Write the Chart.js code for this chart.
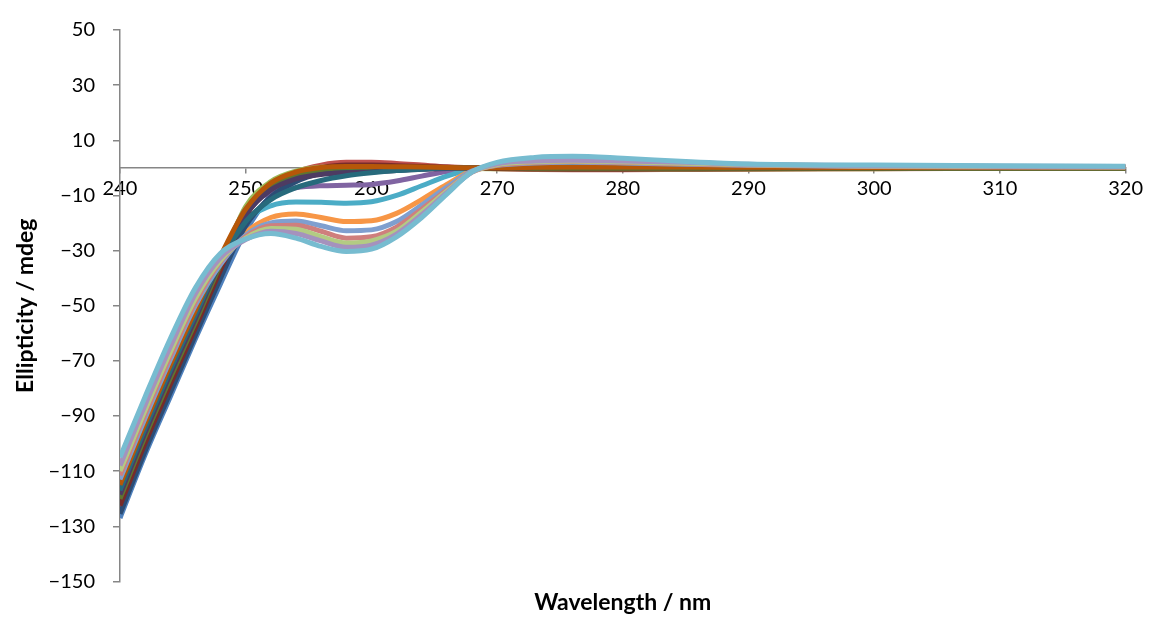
<!DOCTYPE html>
<html>
<head>
<meta charset="utf-8">
<script src="https://cdn.jsdelivr.net/npm/chart.js@4/dist/chart.umd.min.js"></script>
<style>
  html, body { margin: 0; padding: 0; background: #ffffff; }
  #wrap { width: 1152px; height: 619px; position: relative; }
</style>
</head>
<body>
<div id="wrap"><canvas id="c"></canvas></div>
<script>
// Wavelength (nm) sample points
const wavelengths = [240,242,244,246,248,250,252,254,256,258,260,262,264,266,268,270,273,276,280,285,290,300,310,320];

// Ellipticity (mdeg) per titration curve
const s1  = [-127,-104,-83,-62,-42,-23,-10,-3.5,-0.5,1,1.3,1,0.6,0.2,0,-0.1,-0.2,-0.2,-0.2,-0.2,-0.1,-0.1,0,0];
const s2  = [-124,-101,-80,-59,-38,-17,-6.5,-1.5,1,2,2,1.6,1,0.4,0,-0.3,-0.6,-0.7,-0.7,-0.6,-0.5,-0.3,-0.2,-0.1];
const s3  = [-121,-98.4,-77,-57,-35,-14,-5,-1.2,0.2,0.4,0.4,0.3,0.2,0,-0.2,-0.3,-0.4,-0.5,-0.5,-0.5,-0.4,-0.3,-0.2,-0.2];
const s4  = [-119.5,-97,-76,-55.5,-34,-15,-9,-7.2,-6.5,-6.3,-6,-4.8,-3,-1.3,-0.2,0.4,0.9,1,0.9,0.6,0.4,0.2,0.1,0.1];
const s5  = [-118,-95.5,-74.4,-54,-34,-19.5,-13.8,-12.4,-12.5,-12.8,-12.3,-10,-6.5,-3,-0.5,0.6,1.3,1.5,1.4,1,0.7,0.4,0.3,0.2];
const s6  = [-116.5,-94,-73,-53,-35,-23.5,-18,-16.7,-18,-19.5,-19.2,-16.5,-11.5,-6,-1,0.8,1.6,1.8,1.6,1.2,0.8,0.5,0.3,0.2];
const s7  = [-125.5,-102.7,-81.5,-60.6,-40,-21,-10.5,-5,-2,-0.6,0,0.1,0.1,0.1,0,0,0.1,0.1,0.1,0.1,0.1,0,0,0];
const s8  = [-122.5,-99.8,-78.6,-58,-37,-17.5,-7,-2.5,0,1,1,0.8,0.5,0.2,0,-0.2,-0.4,-0.5,-0.5,-0.4,-0.3,-0.2,-0.1,-0.1];
const s9  = [-120,-97.4,-76.3,-56,-35,-16,-6.5,-2.5,-0.7,0,0,0,0,0,0,0,-0.1,-0.1,-0.1,-0.1,-0.1,-0.1,-0.1,-0.1];
const s10 = [-118.5,-96,-74.8,-54.6,-34,-17,-8,-4,-2.4,-1.8,-1.5,-1,-0.5,-0.2,0,0.2,0.5,0.6,0.6,0.5,0.4,0.2,0.1,0.1];
const s11 = [-117,-94.5,-73.4,-53.3,-34,-19.5,-11.5,-7.2,-4.6,-2.9,-1.8,-1,-0.5,-0.1,0,0.3,0.8,1,0.9,0.7,0.5,0.3,0.2,0.1];
const s12 = [-115,-92.6,-71.5,-51.6,-32,-15,-5.5,-1.5,0.1,0.5,0.5,0.4,0.3,0.1,0,0,0.2,0.3,0.3,0.3,0.2,0.1,0.1,0.1];
const s13 = [-113,-90.7,-69.6,-49.9,-35,-24.5,-20,-19.3,-21,-22.8,-22.5,-19.5,-13.5,-7,-1.2,0.9,1.8,2,1.8,1.3,0.9,0.5,0.4,0.3];
const s14 = [-111.5,-89.2,-68.2,-48.6,-34,-25,-21,-20.8,-23,-25.5,-25,-21.5,-15,-8,-1.5,1,2,2.3,2,1.5,1,0.6,0.4,0.3];
const s15 = [-110,-87.8,-66.8,-47.3,-33.5,-25.5,-22,-22.3,-25,-27.3,-26.5,-23,-16,-8.5,-1.5,1.2,2.2,2.5,2.2,1.7,1.1,0.7,0.5,0.4];
const s16 = [-108,-85.9,-64.9,-45.6,-32.5,-26,-23,-23.8,-26.5,-28.8,-28,-24,-17,-9,-1.5,1.5,2.5,2.8,2.5,2,1.3,0.8,0.6,0.5];
const s17 = [-105,-83,-62,-43.5,-31,-25.8,-23.8,-25.5,-28.5,-30.3,-29.5,-25,-18,-9.5,-1.5,2,3.8,4.2,3.5,2.3,1.4,1,0.8,0.6];

const seriesValues = [s1,s2,s3,s4,s5,s6,s7,s8,s9,s10,s11,s12,s13,s14,s15,s16,s17];
const seriesColors = ['#4F81BD','#C0504D','#9BBB59','#8064A2','#4BACC6','#F79646',
                      '#2C4D75','#772C2A','#5F7530','#4D3B62','#276A7C','#B65708',
                      '#7F9FCF','#CF7F7D','#B3CB83','#A592BD','#77BCD0'];

const xTicks = [240,250,260,270,280,290,300,310,320];
const yTicks = [50,30,10,-10,-30,-50,-70,-90,-110,-130,-150];

const n = seriesValues.length;
const datasets = seriesValues.map((vals, i) => ({
  label: 'Series ' + (i + 1),
  data: wavelengths.map((w, k) => ({ x: w, y: vals[k] })),
  xAxisID: 'x',
  yAxisID: 'y',
  borderColor: seriesColors[i],
  backgroundColor: seriesColors[i],
  borderWidth: 5,
  pointRadius: 0,
  fill: false,
  cubicInterpolationMode: 'monotone',
  order: n - i
}));

const axisColor = '#868686';
const tickFont = { family: 'Lato', size: 20 };
const titleFont = { family: 'Lato', size: 23, weight: 'bold', lineHeight: 1.2 };
const fmt = (v) => (v < 0 ? '\u2212' + Math.abs(v) : String(v));

new Chart(document.getElementById('c'), {
  type: 'line',
  data: { datasets },
  options: {
    responsive: true,
    maintainAspectRatio: false,
    animation: false,
    layout: { padding: { top: 12, right: 25, left: 0, bottom: 0 } },
    plugins: {
      legend: { display: false },
      tooltip: { enabled: false }
    },
    scales: {
      x: {
        type: 'linear',
        position: { y: 0 },
        min: 240,
        max: 320,
        afterBuildTicks: (scale) => { scale.ticks = xTicks.map(v => ({ value: v })); },
        ticks: { display: false, autoSkip: false },
        grid: { display: true, drawOnChartArea: false, drawTicks: true, tickLength: 5, color: axisColor, lineWidth: 1.5 },
        border: { display: true, color: axisColor, width: 1.5 }
      },
      xLabels: {
        type: 'linear',
        axis: 'x',
        position: { y: 0 },
        min: 240,
        max: 320,
        z: 1,
        afterBuildTicks: (scale) => { scale.ticks = xTicks.map(v => ({ value: v })); },
        ticks: {
          color: '#000000',
          font: tickFont,
          padding: 9,
          maxRotation: 0,
          autoSkip: false,
          callback: (v) => fmt(v)
        },
        grid: { display: false, drawTicks: false },
        border: { display: false }
      },
      xTitle: {
        type: 'linear',
        axis: 'x',
        position: 'bottom',
        min: 240,
        max: 320,
        ticks: { display: false },
        grid: { display: false, drawTicks: false },
        border: { display: false },
        title: {
          display: true,
          text: 'Wavelength / nm',
          color: '#000000',
          font: titleFont,
          padding: { top: 7, bottom: 3 }
        }
      },
      y: {
        type: 'linear',
        position: 'left',
        min: -150,
        max: 50,
        afterBuildTicks: (scale) => { scale.ticks = yTicks.map(v => ({ value: v })); },
        afterFit: (scale) => { scale.width = 120; },
        ticks: {
          color: '#000000',
          font: tickFont,
          padding: 18,
          autoSkip: false,
          callback: (v) => fmt(v)
        },
        title: {
          display: true,
          text: 'Ellipticity / mdeg',
          color: '#000000',
          font: titleFont,
          padding: { top: 12, bottom: 0 }
        },
        grid: { display: true, drawOnChartArea: false, drawTicks: true, tickLength: 7, color: axisColor, lineWidth: 1.5 },
        border: { display: true, color: axisColor, width: 1.5 }
      }
    }
  }
});
</script>
</body>
</html>
